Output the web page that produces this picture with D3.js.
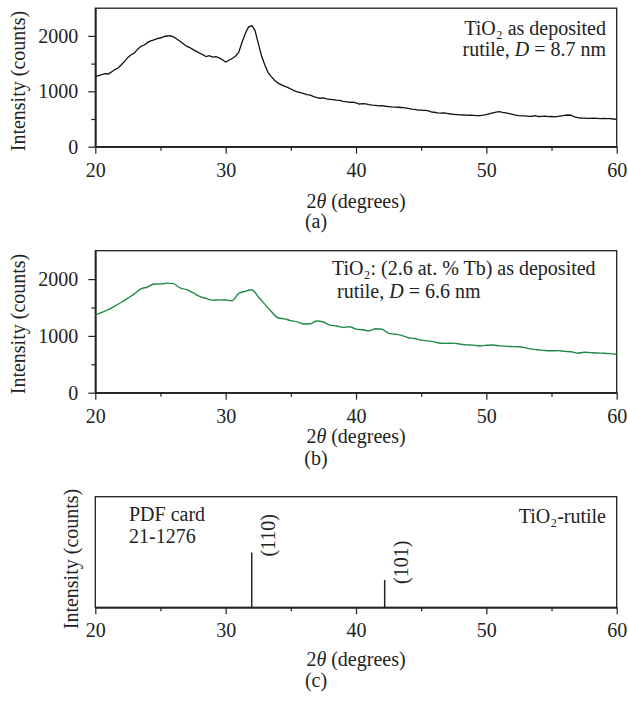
<!DOCTYPE html>
<html>
<head>
<meta charset="utf-8">
<script src="https://cdn.jsdelivr.net/npm/d3@7"></script>
<style>
  body { margin: 0; background: #fff; }
  text { font-family: "Liberation Serif", "Times New Roman", serif; fill: #222; }
</style>
</head>
<body>
<div id="chart"></div>
<script>
// XRD patterns: (a) TiO2 as deposited, (b) Tb doped TiO2, (c) PDF card reference

// shared axis ticks
const xMajor = [20, 30, 40, 50, 60];
const xMinor = [25, 35, 45, 55];
const yMajor = [0, 1000, 2000];
const yMinor = [500, 1500];

// (a) TiO2 as deposited, [2theta, counts]
const pureTiO2 = [
  [20.00,1265],[20.25,1285],[20.50,1300],[20.75,1318],[21.00,1312],[21.25,1350],[21.50,1392],[21.75,1420],
  [22.00,1478],[22.25,1540],[22.50,1612],[22.75,1660],[23.00,1692],[23.25,1760],[23.50,1812],[23.75,1835],
  [24.00,1878],[24.25,1910],[24.50,1928],[24.75,1952],[25.00,1962],[25.25,1985],[25.50,1998],[25.75,2005],
  [26.00,1982],[26.25,1945],[26.50,1905],[26.75,1860],[27.00,1815],[27.25,1790],[27.50,1752],[27.75,1722],
  [28.00,1688],[28.25,1660],[28.50,1628],[28.75,1642],[29.00,1618],[29.25,1625],[29.50,1602],[29.75,1570],
  [30.00,1528],[30.25,1560],[30.50,1592],[30.75,1632],[31.00,1700],[31.25,1880],[31.50,2040],[31.75,2160],
  [32.00,2185],[32.25,2100],[32.50,1870],[32.75,1640],[33.00,1480],[33.25,1340],[33.50,1265],[33.75,1200],
  [34.00,1152],[34.25,1120],[34.50,1092],[34.75,1070],[35.00,1042],[35.25,1012],[35.50,990],[35.75,975],
  [36.00,958],[36.25,940],[36.50,932],[36.75,905],[37.00,886],[37.25,875],[37.50,882],[37.75,862],
  [38.00,855],[38.25,848],[38.50,840],[38.75,835],[39.00,820],[39.25,812],[39.50,800],[39.75,805],
  [40.00,790],[40.25,768],[40.50,778],[40.75,772],[41.00,760],[41.25,752],[41.50,746],[41.75,738],
  [42.00,742],[42.25,730],[42.50,725],[42.75,718],[43.00,715],[43.25,712],[43.50,708],[43.75,700],
  [44.00,692],[44.25,680],[44.50,672],[44.75,662],[45.00,660],[45.25,655],[45.50,650],[45.75,630],
  [46.00,622],[46.25,610],[46.50,605],[46.75,612],[47.00,600],[47.25,590],[47.50,585],[47.75,580],
  [48.00,575],[48.25,572],[48.50,570],[48.75,568],[49.00,565],[49.25,560],[49.50,562],[49.75,570],
  [50.00,580],[50.25,598],[50.50,612],[50.75,625],[51.00,632],[51.25,620],[51.50,610],[51.75,598],
  [52.00,585],[52.25,570],[52.50,560],[52.75,556],[53.00,555],[53.25,548],[53.50,550],[53.75,560],
  [54.00,545],[54.25,548],[54.50,550],[54.75,542],[55.00,545],[55.25,540],[55.50,548],[55.75,558],
  [56.00,565],[56.25,572],[56.50,568],[56.75,540],[57.00,525],[57.25,518],[57.50,515],[57.75,512],
  [58.00,510],[58.25,514],[58.50,512],[58.75,508],[59.00,510],[59.25,505],[59.50,505],[59.75,500],
  [60.00,492]
];

// (b) TiO2 with 2.6 at.% Tb
const dopedTiO2 = [
  [20.0,1370],[20.5,1415],[21.0,1462],[21.5,1525],[22.0,1592],[22.5,1665],[23.0,1740],[23.5,1828],
  [24.0,1860],[24.5,1915],[25.0,1912],[25.5,1930],[26.0,1920],[26.5,1845],[27.0,1815],[27.5,1760],
  [28.0,1695],[28.5,1660],[29.0,1630],[29.5,1635],[30.0,1632],[30.5,1620],[31.0,1748],[31.5,1785],
  [32.0,1812],[32.5,1690],[33.0,1560],[33.5,1430],[34.0,1320],[34.5,1300],[35.0,1270],[35.5,1248],
  [36.0,1210],[36.5,1215],[37.0,1262],[37.5,1245],[38.0,1190],[38.5,1175],[39.0,1150],[39.5,1160],
  [40.0,1120],[40.5,1108],[41.0,1090],[41.5,1125],[42.0,1118],[42.5,1045],[43.0,1030],[43.5,1010],
  [44.0,968],[44.5,955],[45.0,925],[45.5,912],[46.0,895],[46.5,870],[47.0,868],[47.5,872],
  [48.0,855],[48.5,842],[49.0,838],[49.5,822],[50.0,835],[50.5,840],[51.0,825],[51.5,815],
  [52.0,812],[52.5,810],[53.0,790],[53.5,768],[54.0,755],[54.5,742],[55.0,738],[55.5,740],
  [56.0,728],[56.5,722],[57.0,695],[57.5,712],[58.0,705],[58.5,698],[59.0,695],[59.5,688],
  [60.0,676]
];

// (c) PDF card 21-1276 reference lines
const cardPos = [32.0, 42.2];
const cardIntensity = [100, 50];
const cardLabels = ["(110)", "(101)"];

const width = 628, height = 703;
const left = 95.3, right = 616.7;

const svg = d3.select("#chart").append("svg")
  .attr("width", width)
  .attr("height", height)
  .style("background", "#fff");

const x = d3.scaleLinear().domain([20, 60]).range([left, right]);

// draws frame, axes and titles of one panel, returns its y scale
function drawPanel(p) {
  const y = d3.scaleLinear().domain(p.yDomain).range([p.bottom, p.top]);
  const g = svg.append("g");

  // minor and major x ticks
  g.append("g")
    .attr("transform", `translate(0,${p.bottom})`)
    .call(d3.axisBottom(x).tickValues(xMinor).tickSize(4).tickSizeOuter(0).tickFormat(""));
  g.append("g")
    .attr("transform", `translate(0,${p.bottom})`)
    .call(d3.axisBottom(x).tickValues(xMajor).tickSize(7).tickSizeOuter(0).tickPadding(9).tickFormat(d3.format("d")));

  if (p.yTicks) {
    g.append("g")
      .attr("transform", `translate(${left},0)`)
      .call(d3.axisLeft(y).tickValues(yMinor).tickSize(4).tickSizeOuter(0).tickFormat(""));
    g.append("g")
      .attr("transform", `translate(${left},0)`)
      .call(d3.axisLeft(y).tickValues(yMajor).tickSize(7).tickSizeOuter(0).tickPadding(10).tickFormat(d3.format("d")));
  }

  g.selectAll(".domain").attr("stroke", "#222").attr("stroke-width", 1.3);
  g.selectAll(".tick line").attr("stroke", "#222").attr("stroke-width", 1.2);
  g.selectAll(".tick text").attr("font-size", 20).attr("font-family", "Liberation Serif").attr("fill", "#222");

  // frame
  g.append("rect")
    .attr("x", left).attr("y", p.top)
    .attr("width", right - left).attr("height", p.bottom - p.top)
    .attr("fill", "none").attr("stroke", "#222").attr("stroke-width", 1.3);

  // y title
  g.append("text")
    .attr("transform", `translate(${p.yTitleX},${p.yTitleY}) rotate(-90)`)
    .attr("text-anchor", "middle")
    .attr("font-size", 20)
    .text("Intensity (counts)");

  // x title
  const xt = g.append("text")
    .attr("x", 356).attr("y", p.xTitleY)
    .attr("text-anchor", "middle")
    .attr("font-size", 20);
  xt.append("tspan").text("2");
  xt.append("tspan").attr("font-style", "italic").text("θ");
  xt.append("tspan").text(" (degrees)");

  // panel letter
  g.append("text")
    .attr("x", 316).attr("y", p.letterY)
    .attr("text-anchor", "middle")
    .attr("font-size", 20)
    .text(p.letter);

  return y;
}

const line = y => d3.line().x(d => x(d[0])).y(d => y(d[1]));

// "rutile, D = ..." line with italic D
function rutileLine(t, size) {
  t.append("tspan").text("rutile, ");
  t.append("tspan").attr("font-style", "italic").text("D");
  t.append("tspan").text(` = ${size} nm`);
}

// ---- (a)
const yA = drawPanel({top: 8.2, bottom: 146.7, yDomain: [0, 2500], yTicks: true,
  yTitleX: 25, yTitleY: 81, xTitleY: 208, letterY: 228, letter: "(a)"});

svg.append("path")
  .datum(pureTiO2)
  .attr("fill", "none")
  .attr("stroke", "#111")
  .attr("stroke-width", 1.3)
  .attr("d", line(yA));

svg.append("text").attr("x", 606).attr("y", 35).attr("text-anchor", "end").attr("font-size", 20)
  .text("TiO₂ as deposited");
rutileLine(svg.append("text").attr("x", 606).attr("y", 56).attr("text-anchor", "end").attr("font-size", 20), "8.7");

// ---- (b)
const yB = drawPanel({top: 250.7, bottom: 392.7, yDomain: [0, 2500], yTicks: true,
  yTitleX: 25, yTitleY: 324, xTitleY: 443, letterY: 465, letter: "(b)"});

svg.append("path")
  .datum(dopedTiO2)
  .attr("fill", "none")
  .attr("stroke", "#1f8a45")
  .attr("stroke-width", 1.4)
  .attr("d", line(yB).curve(d3.curveMonotoneX));

svg.append("text").attr("x", 332).attr("y", 275).attr("font-size", 20)
  .text("TiO₂: (2.6 at. % Tb) as deposited");
rutileLine(svg.append("text").attr("x", 337).attr("y", 298).attr("font-size", 20), "6.6");

// ---- (c)
const yC = drawPanel({top: 496.7, bottom: 607.3, yDomain: [0, 202], yTicks: false,
  yTitleX: 78, yTitleY: 559, xTitleY: 666, letterY: 687, letter: "(c)"});

const card = cardPos.map((p, i) => ({pos: p, val: cardIntensity[i], label: cardLabels[i]}));

svg.selectAll("line.peak")
  .data(card)
  .enter()
  .append("line")
  .attr("class", "peak")
  .attr("x1", d => x(d.pos)).attr("x2", d => x(d.pos))
  .attr("y1", yC(0)).attr("y2", d => yC(d.val))
  .attr("stroke", "#222")
  .attr("stroke-width", 1.5);

svg.selectAll("text.peak")
  .data(card)
  .enter()
  .append("text")
  .attr("class", "peak")
  .attr("font-size", 20)
  .attr("transform", d => `translate(${x(d.pos) + 23},${yC(d.val) + 4}) rotate(-90)`)
  .text(d => d.label);

svg.append("text").attr("x", 129).attr("y", 521).attr("font-size", 20).text("PDF card");
svg.append("text").attr("x", 129).attr("y", 543).attr("font-size", 20).text("21-1276");

svg.append("text").attr("x", 606).attr("y", 523).attr("text-anchor", "end").attr("font-size", 20)
  .text("TiO₂-rutile");
</script>
</body>
</html>
